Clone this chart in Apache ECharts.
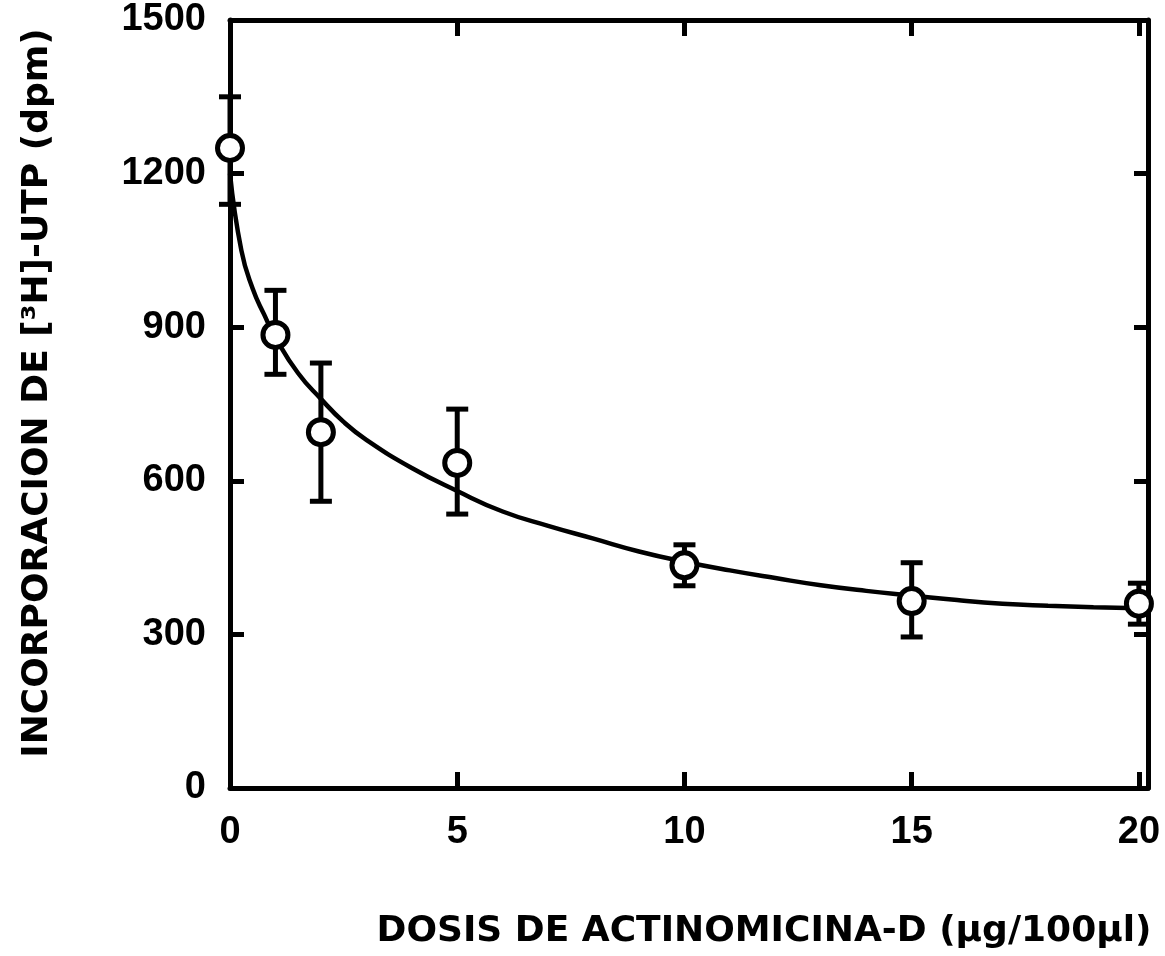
<!DOCTYPE html>
<html>
<head>
<meta charset="utf-8">
<script src="https://cdn.jsdelivr.net/npm/echarts@6/dist/echarts.min.js"></script>
<style>
html,body{margin:0;padding:0;background:#fff;}
#chart{width:1165px;height:956px;}
</style>
</head>
<body>
<div id="chart"></div>
<script>
// Measured points (dose, mean, lower, upper)
const doses = [0, 1, 2, 5, 10, 15, 20];
const means = [1250, 885, 695, 635, 435, 365, 360];
const lowers = [1140, 808, 560, 535, 395, 295, 320];
const uppers = [1350, 972, 830, 740, 475, 440, 400];

// Fitted curve
const curveX = [0, 0.25, 0.5, 0.75, 1, 1.5, 2, 2.5, 3, 4, 5, 6, 7, 8, 9, 10, 11, 12, 13, 14, 15, 16, 17, 18, 19, 20];
const curveY = [1200, 1050, 975, 925, 880, 810, 760, 715, 680, 625, 580, 540, 512, 487, 462, 442, 425, 410, 396, 385, 376, 367, 360, 356, 353, 351];

// Tick labels
const xTickLabels = [0, 5, 10, 15, 20];
const xTickMarks = [5, 10, 15, 20];
const yTickLabels = [0, 300, 600, 900, 1200, 1500];
const yTickMarks = [300, 600, 900, 1200];

const xName = 'DOSIS DE ACTINOMICINA-D (µg/100µl)';
const yName = 'INCORPORACION DE [³H]-UTP (dpm)';

const chart = echarts.init(document.getElementById('chart'));
const lineStyle = {color: '#000', width: 5};
const labelFont = {color: '#000', fontFamily: 'Liberation Sans', fontWeight: 'bold', fontSize: 38};
const nameFont = {color: '#000', fontFamily: 'DejaVu Sans', fontWeight: 'bold', fontSize: 36};
const plain = v => String(v);

const option = {
  backgroundColor: '#fff',
  animation: false,
  grid: {left: 230, right: 17, top: 20, bottom: 168, containLabel: false},
  xAxis: [
    {
      type: 'value', position: 'bottom', min: 0, max: 20.2,
      axisLine: {show: true, onZero: false, lineStyle: lineStyle},
      axisTick: {show: true, inside: true, length: 16, lineStyle: {color: '#000', width: 5}, customValues: xTickMarks},
      axisLabel: {show: true, margin: 26, customValues: xTickLabels, formatter: plain, ...labelFont},
      splitLine: {show: false},
      name: xName, nameLocation: 'middle', nameGap: 126,
      nameTextStyle: {...nameFont, padding: [0, 0, 0, 150]}
    },
    {
      type: 'value', position: 'top', min: 0, max: 20.2,
      axisLine: {show: true, onZero: false, lineStyle: lineStyle},
      axisTick: {show: true, inside: true, length: 16, lineStyle: {color: '#000', width: 5}, customValues: xTickMarks},
      axisLabel: {show: false},
      splitLine: {show: false}
    }
  ],
  yAxis: [
    {
      type: 'value', position: 'left', min: 0, max: 1500,
      axisLine: {show: true, onZero: false, lineStyle: lineStyle},
      axisTick: {show: true, inside: true, length: 14, lineStyle: {color: '#000', width: 5}, customValues: yTickMarks},
      axisLabel: {show: true, margin: 24, customValues: yTickLabels, formatter: plain, ...labelFont},
      splitLine: {show: false},
      name: yName, nameLocation: 'middle', nameGap: 174, nameRotate: 90,
      nameTextStyle: {...nameFont, padding: [0, 0, 0, 22]}
    },
    {
      type: 'value', position: 'right', min: 0, max: 1500,
      axisLine: {show: true, onZero: false, lineStyle: lineStyle},
      axisTick: {show: true, inside: true, length: 14, lineStyle: {color: '#000', width: 5}, customValues: yTickMarks},
      axisLabel: {show: false},
      splitLine: {show: false}
    }
  ],
  series: [
    {
      type: 'line', name: 'curve', smooth: true, showSymbol: false, symbol: 'none',
      data: curveX.map((x, i) => [x, curveY[i]]),
      lineStyle: {color: '#000', width: 4.5},
      z: 2
    },
    {
      type: 'custom', name: 'error',
      data: doses.map((d, i) => [d, lowers[i], uppers[i]]),
      renderItem: function (params, api) {
        const lo = api.coord([api.value(0), api.value(1)]);
        const hi = api.coord([api.value(0), api.value(2)]);
        const half = 11;
        const st = {stroke: '#000', lineWidth: 5, fill: 'none'};
        return {
          type: 'group',
          children: [
            {type: 'line', shape: {x1: lo[0], y1: lo[1], x2: hi[0], y2: hi[1]}, style: st},
            {type: 'line', shape: {x1: lo[0] - half, y1: lo[1], x2: lo[0] + half, y2: lo[1]}, style: st},
            {type: 'line', shape: {x1: hi[0] - half, y1: hi[1], x2: hi[0] + half, y2: hi[1]}, style: st}
          ]
        };
      },
      z: 3
    },
    {
      type: 'scatter', name: 'points', symbol: 'circle', symbolSize: 25,
      data: doses.map((d, i) => [d, means[i]]),
      itemStyle: {color: '#fff', borderColor: '#000', borderWidth: 5, opacity: 1},
      z: 4
    }
  ]
};
chart.setOption(option);
</script>
</body>
</html>
